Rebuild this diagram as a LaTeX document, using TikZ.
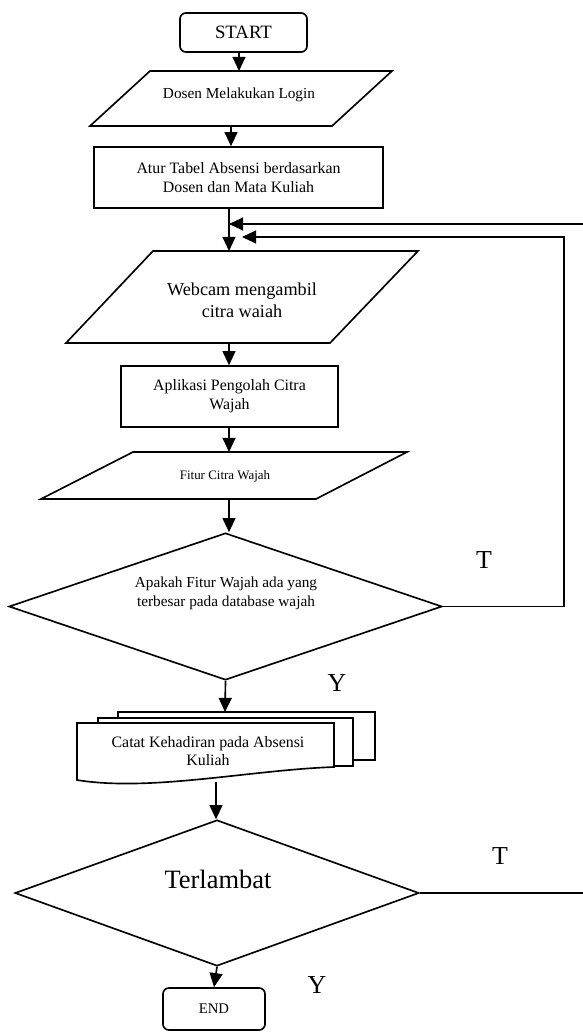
\documentclass[tikz,border=0pt]{standalone}
\usepackage{fontspec}
\setmainfont{Liberation Serif}
\usetikzlibrary{shapes.geometric,arrows.meta}

\newdimen\pxu \pxu=0.85pt

\tikzset{
    shapeline/.style={draw, line width=1.4pt, line join=miter},
    flow/.style={draw, line width=1.4pt, -{Triangle[length=12pt,width=11pt]}},
    termbox/.style={shapeline, rectangle, rounded corners=5pt, inner sep=0pt},
    procbox/.style={shapeline, rectangle, align=center, inner sep=0pt},
    decbox/.style={shapeline, diamond, inner sep=0pt},
    lbl/.style={font=\fontsize{22pt}{26pt}\selectfont},
}

\begin{document}
\begin{tikzpicture}[x=0.85pt, y=-0.85pt]
    \useasboundingbox (0,0) rectangle (583,1032);

    \node[termbox, minimum width=127\pxu, minimum height=39\pxu, font=\fontsize{16pt}{19pt}\selectfont] (start) at (243.5,32.5) {START};

    \draw[shapeline] (90,126) -- (150,71) -- (392,71) -- (332,126) -- cycle;
    \coordinate (login-n) at (239,71);
    \coordinate (login-s) at (231,126);
    \node[font=\fontsize{13pt}{16pt}\selectfont] (login) at (239,95) {Dosen Melakukan Login};

    \node[procbox, minimum width=289\pxu, minimum height=61\pxu, font=\fontsize{13.5pt}{16pt}\selectfont] (atur) at (238.5,177.5) {Atur Tabel Absensi berdasarkan\\Dosen dan Mata Kuliah};

    \draw[shapeline] (66,343) -- (153,251) -- (418,251) -- (330,343) -- cycle;
    \coordinate (webcam-n) at (229,251);
    \coordinate (webcam-s) at (229,343);
    \node[align=center, font=\fontsize{15.5pt}{18.7pt}\selectfont] (webcam) at (242,300) {Webcam mengambil\\citra waiah};

    \node[procbox, minimum width=217\pxu, minimum height=61\pxu, font=\fontsize{13.5pt}{16pt}\selectfont] (aplikasi) at (229.5,396.5) {Aplikasi Pengolah Citra\\Wajah};

    \draw[shapeline] (41,499) -- (133,452) -- (407,452) -- (316,499) -- cycle;
    \coordinate (fitur-n) at (229,452);
    \coordinate (fitur-s) at (229,499);
    \node[font=\fontsize{11pt}{13pt}\selectfont] (fitur) at (225,476) {Fitur Citra Wajah};

    \node[decbox, minimum width=433\pxu, minimum height=147\pxu] (cek) at (225.5,606.5) {};
    \node[align=center, font=\fontsize{13pt}{16pt}\selectfont] (cektext) at (226,593) {Apakah Fitur Wajah ada yang\\terbesar pada database wajah};

    \draw[shapeline, fill=white] (118,712) rectangle (375,760);
    \draw[shapeline, fill=white] (98,718) rectangle (353,766);
    \draw[shapeline, fill=white] (77,780) -- (77,723) -- (334,723) -- (334,767)
        .. controls (250,770) and (150,792) .. cycle;
    \coordinate (catat-n) at (225,712);
    \coordinate (catat-s) at (216,782);
    \node[align=center, font=\fontsize{13.5pt}{15.5pt}\selectfont] (catat) at (208,751) {Catat Kehadiran pada Absensi\\Kuliah};

    \node[decbox, minimum width=404\pxu, minimum height=146\pxu] (telat) at (217,893) {};
    \node[font=\fontsize{22.5pt}{26pt}\selectfont] (telattext) at (218,879) {Terlambat};

    \node[termbox, minimum width=102\pxu, minimum height=42\pxu, font=\fontsize{12.5pt}{15pt}\selectfont] (end) at (214,1009) {END};

    \coordinate (loop-a) at (583,224);
    \coordinate (loop-b) at (242,237);
    \coordinate (telat-out) at (583,893);

    \node[lbl] (t1) at (484,560) {T};
    \node[lbl] (y1) at (337,683) {Y};
    \node[lbl] (t2) at (500,856) {T};
    \node[lbl] (y2) at (317,985) {Y};

    \draw[flow] (login-n |- start.south) -- (login-n);
    \draw[flow] (login-s) -- (login-s |- atur.north);
    \draw[flow] (webcam-n |- atur.south) -- (webcam-n);
    \draw[flow] (loop-a) -- (webcam-n |- loop-a);
    \draw[flow] (cek.east) -- ++(121,0) |- (loop-b);
    \draw[flow] (webcam-s) -- (webcam-s |- aplikasi.north);
    \draw[flow] (fitur-s |- aplikasi.south) -- (fitur-n);
    \draw[flow] (fitur-s) -- (fitur-s |- cek.north);
    \draw[flow] (cek.south) -- (catat-n);
    \draw[flow] (catat-s) -- (catat-s |- telat.north);
    \draw[shapeline] (telat.east) -- (telat-out);
    \draw[flow] (telat.south) -- (end.north);
\end{tikzpicture}
\end{document}
